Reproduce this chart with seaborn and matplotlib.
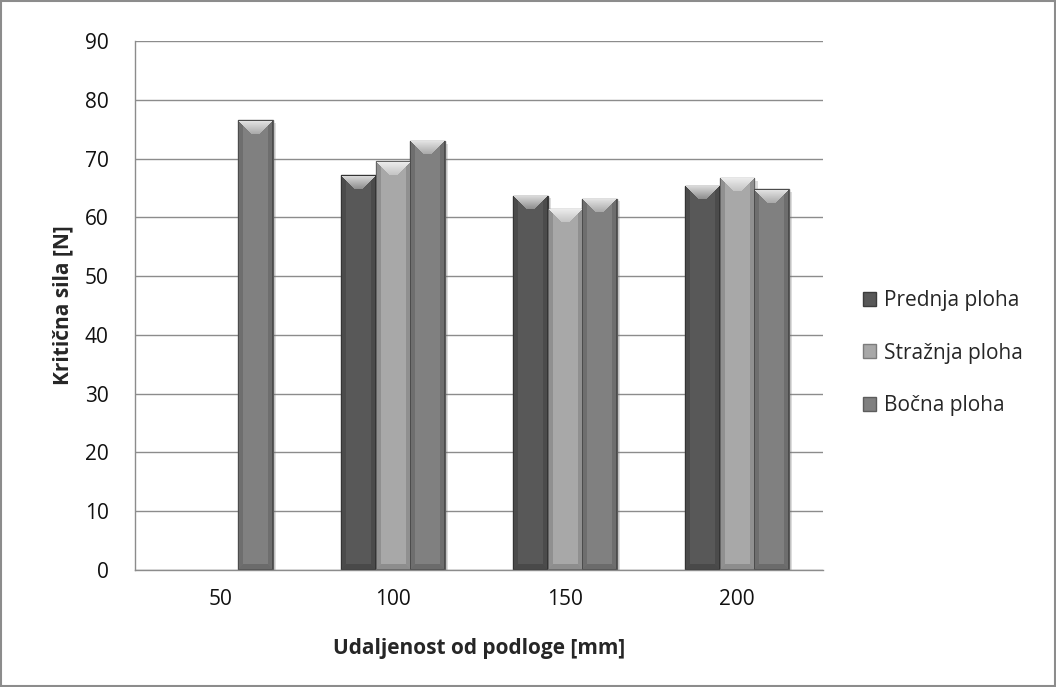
import matplotlib
matplotlib.use("Agg")
import matplotlib.pyplot as plt
import matplotlib.colors as mcolors
import matplotlib.patheffects as pe
import seaborn as sns
import pandas as pd
import numpy as np

categories = ["50", "100", "150", "200"]
series = ["Prednja ploha", "Stražnja ploha", "Bočna ploha"]
prednja = [np.nan, 67.2, 63.7, 65.4]
straznja = [np.nan, 69.5, 61.5, 66.7]
bocna = [76.5, 73.0, 63.2, 64.8]
colors = ["#585858", "#a8a8a8", "#808080"]
edges = ["#3c3c3c", "#7c7c7c", "#5c5c5c"]

rows = []
for s, vals in zip(series, [prednja, straznja, bocna]):
    for c, v in zip(categories, vals):
        rows.append({"Udaljenost": c, "Ploha": s, "Sila": v})
df = pd.DataFrame(rows)

sns.set_style("white")
plt.rcParams["font.family"] = ["Open Sans", "DejaVu Sans"]

fig = plt.figure(figsize=(10.56, 6.87), dpi=100)
ax = fig.add_axes([135/1056, 1-570/687, (823-135)/1056, (570-41)/687])

sns.barplot(data=df, x="Udaljenost", y="Sila", hue="Ploha", order=categories,
            hue_order=series, palette=colors, width=0.6, saturation=1,
            ax=ax, errorbar=None, zorder=3)

ax.set_ylim(0, 90)
ax.set_xlim(-0.5, 3.5)


def bevel_image(color, wpx, hpx, b=14):
    base = np.array(mcolors.to_rgb(color))
    W, H = max(int(round(wpx)), 2), max(int(round(hpx)), 2)
    jj, ii = np.meshgrid(np.arange(W), np.arange(H))
    dl, dr, dt, db = jj, W - 1 - jj, ii, H - 1 - ii
    img = np.tile(base, (H, W, 1))
    side = np.minimum(dl, dr)
    sm = (side < 5) & (dt >= side)
    img[sm] = base * 0.86
    bm = (db < 6) & (db <= side)
    img[bm] = base * 0.84
    tm = (dt < b) & (dt <= side)
    t = (1 - dt / b)[..., None]
    light = base + (1 - base) * (0.3 + 0.5 * t)
    img = np.where(tm[..., None], light, img)
    om = (dl == 0) | (dr == 0) | (dt == 0) | (db == 0)
    img[om] = base * 0.6
    return np.clip(img, 0, 1)


fig.canvas.draw()
for i, cont in enumerate(ax.containers):
    for p in cont.patches:
        x0, y0 = p.get_x(), p.get_y()
        w, h = p.get_width(), p.get_height()
        if not np.isfinite(h) or h == 0:
            continue
        (px0, py0), (px1, py1) = ax.transData.transform([(x0, y0), (x0 + w, y0 + h)])
        p.set_facecolor(colors[i])
        p.set_edgecolor(edges[i])
        p.set_linewidth(1)
        p.set_path_effects([pe.SimplePatchShadow(offset=(2.5, -2), alpha=0.25, shadow_rgbFace="#777777"), pe.Normal()])
        im = ax.imshow(bevel_image(colors[i], px1 - px0, py1 - py0),
                       extent=(x0, x0 + w, y0, y0 + h), aspect="auto",
                       interpolation="nearest", zorder=3.5, origin="upper")
        im.set_clip_path(p)

ax.set_ylim(0, 90)
ax.set_xlim(-0.5, 3.5)
ax.set_yticks(range(0, 91, 10))
ax.yaxis.grid(True, color="#8c8c8c", linewidth=1)
ax.set_axisbelow(True)
for s in ["top", "right"]:
    ax.spines[s].set_visible(False)
for s in ["left", "bottom"]:
    ax.spines[s].set_color("#8c8c8c")
    ax.spines[s].set_linewidth(1)
    ax.spines[s].set_zorder(4)

ax.set_xticks(range(4))
ax.set_xticklabels(categories)
ax.set_xticks(np.arange(-0.5, 4, 1), minor=True)
ax.tick_params(axis="x", which="major", length=0, labelsize=15, pad=14, labelcolor="#111111")
ax.tick_params(axis="x", which="minor", length=5, color="#8c8c8c", direction="out")
ax.tick_params(axis="y", length=5, color="#8c8c8c", direction="out", labelsize=15, pad=14, labelcolor="#111111")

ax.set_xlabel("Udaljenost od podloge [mm]", fontsize=15, fontweight="bold", labelpad=20)
ax.set_ylabel("Kritična sila [N]", fontsize=15, fontweight="bold", labelpad=8)

leg = ax.legend(loc="center left", bbox_to_anchor=(1.058, 0.41), frameon=False,
                fontsize=15, handlelength=0.65, handleheight=0.65, labelspacing=1.52,
                handletextpad=0.35, borderpad=0, borderaxespad=0, title=None)
for h, ec in zip(leg.legend_handles, edges):
    h.set_edgecolor(ec)

fig.patches.append(plt.Rectangle((0.001, 0.001), 0.998, 0.998, transform=fig.transFigure,
                                 fill=False, edgecolor="#8c8c8c", linewidth=1.5))

fig.savefig("out.png", dpi=100)
